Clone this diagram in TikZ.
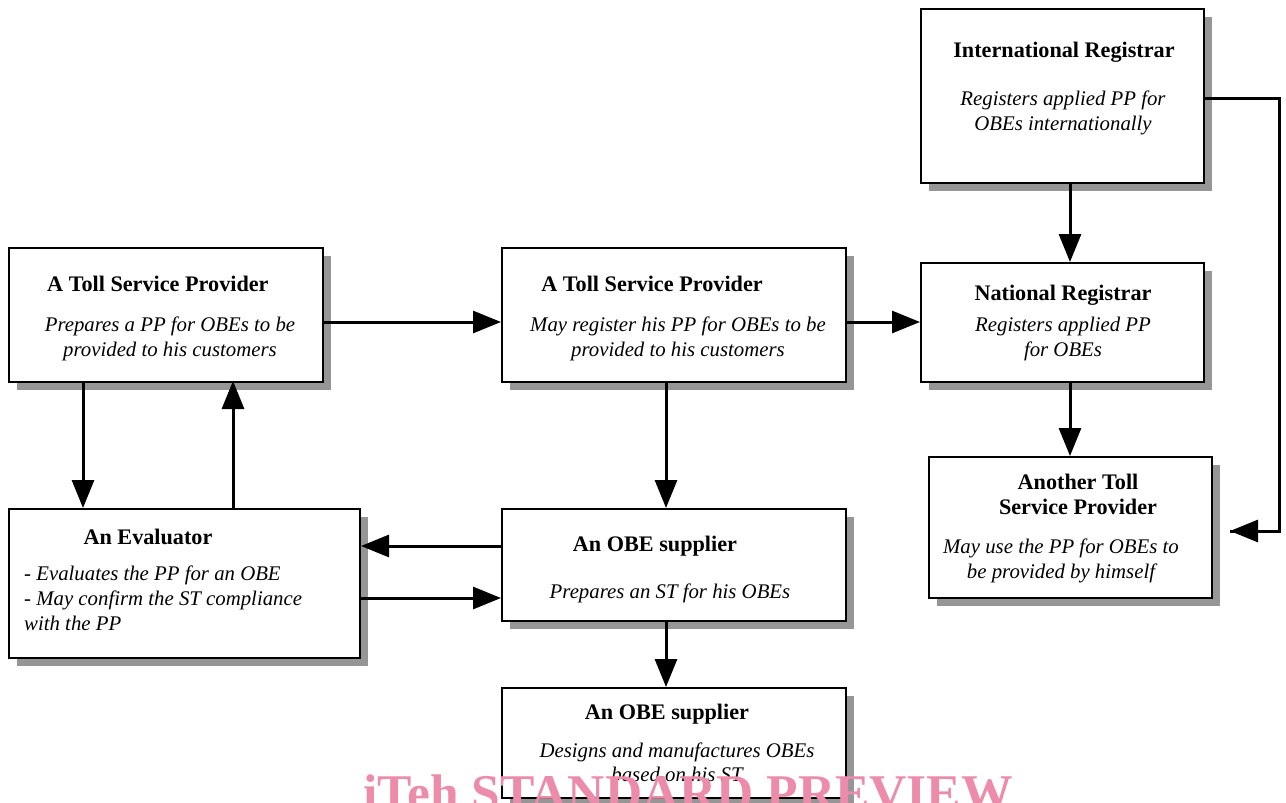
\documentclass[tikz,border=0pt]{standalone}
\usepackage{fontspec}
\setmainfont{Liberation Serif}
\usetikzlibrary{arrows.meta,shadows}
\definecolor{shade}{RGB}{150,150,150}
\definecolor{wm}{RGB}{236,140,170}
\begin{document}
\begin{tikzpicture}[x=1pt,y=-1pt,
  box/.style={draw=black,line width=2pt,fill=white,rectangle,inner sep=0pt,
    drop shadow={shadow xshift=8pt,shadow yshift=-8pt,fill=shade,opacity=1}},
  ttl/.style={font=\fontsize{22.2}{26}\selectfont\bfseries,inner sep=0pt,anchor=base},
  txt/.style={font=\fontsize{20.8}{25}\selectfont\itshape,inner sep=0pt,anchor=base},
  arr/.style={line width=3pt,-{Triangle[length=28pt,width=22pt]}},
  ln/.style={line width=3pt}]
\useasboundingbox (0,0) rectangle (1286,803);
\clip (0,0) rectangle (1286,803);
% boxes
\node[box,minimum width=314pt,minimum height=134pt] (tsp1) at (166,315) {};
\node[box,minimum width=344pt,minimum height=134pt] (tsp2) at (674,315) {};
\node[box,minimum width=283pt,minimum height=174pt] (ir) at (1062.5,96) {};
\node[box,minimum width=283pt,minimum height=119pt] (nr) at (1062.5,322.5) {};
\node[box,minimum width=283pt,minimum height=141pt] (atsp) at (1070.5,527.5) {};
\node[box,minimum width=351pt,minimum height=149pt] (ev) at (184.5,583.5) {};
\node[box,minimum width=344pt,minimum height=112pt] (obe1) at (674,565) {};
\node[box,minimum width=344pt,minimum height=110pt] (obe2) at (674,743) {};
% texts
\node[ttl,anchor=base west] (t1) at (47,291) {A Toll Service Provider};
\node[txt] (d1a) at (170,331) {Prepares a PP for OBEs to be};
\node[txt] (d1b) at (170,356) {provided to his customers};
\node[ttl] (t2) at (652,291) {A Toll Service Provider};
\node[txt] (d2a) at (678,331) {May register his PP for OBEs to be};
\node[txt] (d2b) at (678,356) {provided to his customers};
\node[ttl] (t3) at (1064,57) {International Registrar};
\node[txt] (d3a) at (1063,105) {Registers applied PP for};
\node[txt] (d3b) at (1063,130) {OBEs internationally};
\node[ttl] (t4) at (1063,300) {National Registrar};
\node[txt] (d4a) at (1063,331) {Registers applied PP};
\node[txt] (d4b) at (1063,356) {for OBEs};
\node[ttl] (t5a) at (1078,489) {Another Toll};
\node[ttl] (t5b) at (1078,514) {Service Provider};
\node[txt] (d5a) at (1061,553) {May use the PP for OBEs to};
\node[txt] (d5b) at (1061,578) {be provided by himself};
\node[ttl] (t6) at (148,544) {An Evaluator};
\node[txt,anchor=base west] (d6a) at (24,580) {\upshape-\ \itshape Evaluates the PP for an OBE};
\node[txt,anchor=base west] (d6b) at (24,605) {\upshape-\ \itshape May confirm the ST compliance};
\node[txt,anchor=base west] (d6c) at (24,630) {with the PP};
\node[ttl] (t7) at (655,551) {An OBE supplier};
\node[txt] (d7) at (670,598) {Prepares an ST for his OBEs};
\node[ttl] (t8) at (667,719) {An OBE supplier};
\node[txt] (d8a) at (677,757) {Designs and manufactures OBEs};
\node[txt] (d8b) at (677,781) {based on his ST};
% connectors
\draw[arr] (tsp1.east |- 0,322) -- (tsp2.west |- 0,322);
\draw[arr] (tsp2.east |- 0,322) -- (nr.west |- 0,322);
\draw[arr] (ir.south -| 1070,0) -- (nr.north -| 1070,0);
\draw[arr] (nr.south -| 1070,0) -- (atsp.north -| 1070,0);
\coordinate (c1) at (1279,98);
\coordinate (c2) at (1279,531);
\coordinate (c3) at (1230,531);
\draw[ln] (ir.east |- c1) -- (c1) -- (c2) -- (c3);
\draw[arr] (c2) -- (c3);
\draw[arr] (tsp1.south -| 83,0) -- (ev.north -| 83,0);
\draw[arr] (ev.north -| 233,0) -- ([yshift=2pt]tsp1.south -| 233,0);
\draw[arr] (tsp2.south -| 666,0) -- (obe1.north -| 666,0);
\draw[arr] (obe1.west |- 0,546) -- (ev.east |- 0,546);
\draw[arr] (ev.east |- 0,598) -- (obe1.west |- 0,598);
\draw[arr] (obe1.south -| 666,0) -- (obe2.north -| 666,0);
% watermark
\node[font=\fontsize{51.5}{55}\selectfont\bfseries,text=wm,inner sep=0pt,anchor=base west] (wmk) at (363,810) {iTeh STANDARD PREVIEW};
\end{tikzpicture}
\end{document}
